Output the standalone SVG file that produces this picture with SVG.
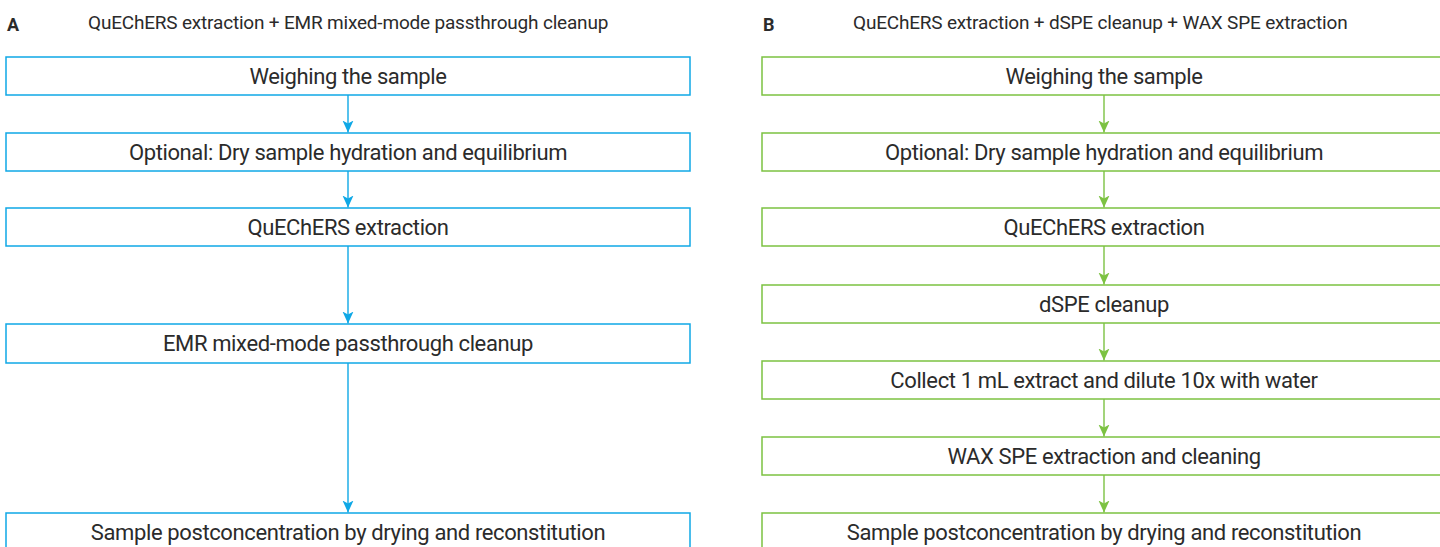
<svg xmlns="http://www.w3.org/2000/svg" width="1440" height="547" viewBox="0 0 1440 547">
<defs>
<style>
.bA{fill:#fff;stroke:#0fa8e6;stroke-width:1.5}
.bB{fill:#fff;stroke:#7cc242;stroke-width:1.5}
.t{font-family:Roboto,"Liberation Sans",sans-serif;font-size:22px;letter-spacing:-0.38px;fill:#2b2b2b;text-anchor:middle}
.h{font-family:Roboto,"Liberation Sans",sans-serif;font-size:19px;letter-spacing:-0.19px;fill:#2b2b2b}
.hl{font-family:Roboto,"Liberation Sans",sans-serif;font-size:18px;font-weight:bold;fill:#2b2b2b}
.cA{stroke:#0fa8e6;stroke-width:1.4;fill:none;marker-end:url(#mA)}
.cB{stroke:#7cc242;stroke-width:1.4;fill:none;marker-end:url(#mB)}
</style>
<marker id="mA" viewBox="0 0 12 12" refX="12" refY="6" markerWidth="12" markerHeight="12" markerUnits="userSpaceOnUse" orient="auto">
<path d="M0,0.5 L12,6 L0,11.5 L3,6 Z" fill="#0fa8e6"/>
</marker>
<marker id="mB" viewBox="0 0 12 12" refX="12" refY="6" markerWidth="12" markerHeight="12" markerUnits="userSpaceOnUse" orient="auto">
<path d="M0,0.5 L12,6 L0,11.5 L3,6 Z" fill="#7cc242"/>
</marker>
</defs>
<rect width="1440" height="547" fill="#fff"/>
<g id="headers">
<text class="hl" x="7" y="31">A</text>
<text class="h" x="88" y="29">QuEChERS extraction + EMR mixed-mode passthrough cleanup</text>
<text class="hl" x="763" y="31">B</text>
<text class="h" x="853" y="29">QuEChERS extraction + dSPE cleanup + WAX SPE extraction</text>
</g>
<g id="connectors">
<path class="cA" d="M348,95 V132.5"/>
<path class="cA" d="M348,171 V207.5"/>
<path class="cA" d="M348,246 V323.5"/>
<path class="cA" d="M348,363 V512.5"/>
<path class="cB" d="M1104,95 V132.5"/>
<path class="cB" d="M1104,171 V207.5"/>
<path class="cB" d="M1104,246 V284.5"/>
<path class="cB" d="M1104,323 V360.5"/>
<path class="cB" d="M1104,399 V436.5"/>
<path class="cB" d="M1104,475 V512.5"/>
</g>
<g id="a1"><rect class="bA" x="6" y="57" width="684" height="38"/><text class="t" x="348" y="84">Weighing the sample</text></g>
<g id="a2"><rect class="bA" x="6" y="133" width="684" height="38"/><text class="t" x="348" y="160">Optional: Dry sample hydration and equilibrium</text></g>
<g id="a3"><rect class="bA" x="6" y="208" width="684" height="38"/><text class="t" x="348" y="235">QuEChERS extraction</text></g>
<g id="a4"><rect class="bA" x="6" y="324" width="684" height="39"/><text class="t" x="348" y="351">EMR mixed-mode passthrough cleanup</text></g>
<g id="a5"><rect class="bA" x="6" y="513" width="684" height="38"/><text class="t" x="348" y="540">Sample postconcentration by drying and reconstitution</text></g>
<g id="b1"><rect class="bB" x="762" y="57" width="684" height="38"/><text class="t" x="1104" y="84">Weighing the sample</text></g>
<g id="b2"><rect class="bB" x="762" y="133" width="684" height="38"/><text class="t" x="1104" y="160">Optional: Dry sample hydration and equilibrium</text></g>
<g id="b3"><rect class="bB" x="762" y="208" width="684" height="38"/><text class="t" x="1104" y="235">QuEChERS extraction</text></g>
<g id="b4"><rect class="bB" x="762" y="285" width="684" height="38"/><text class="t" x="1104" y="312">dSPE cleanup</text></g>
<g id="b5"><rect class="bB" x="762" y="361" width="684" height="38"/><text class="t" x="1104" y="388">Collect 1 mL extract and dilute 10x with water</text></g>
<g id="b6"><rect class="bB" x="762" y="437" width="684" height="38"/><text class="t" x="1104" y="464">WAX SPE extraction and cleaning</text></g>
<g id="b7"><rect class="bB" x="762" y="513" width="684" height="38"/><text class="t" x="1104" y="540">Sample postconcentration by drying and reconstitution</text></g>
</svg>
